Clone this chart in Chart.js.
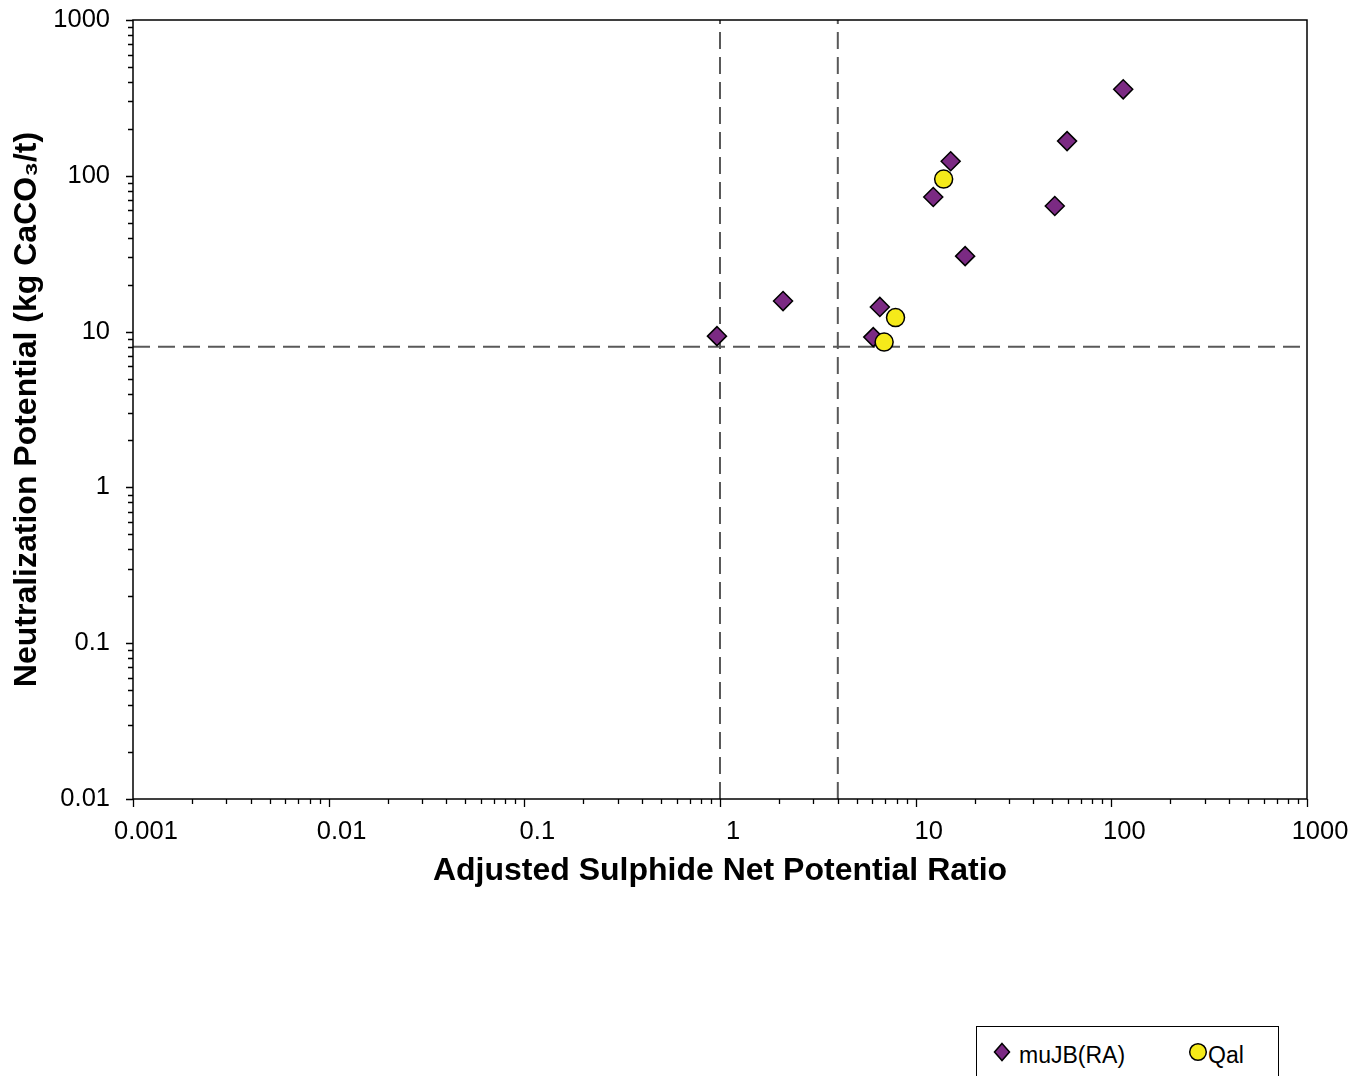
<!DOCTYPE html>
<html><head><meta charset="utf-8">
<script src="https://cdn.jsdelivr.net/npm/chart.js@4.4.0/dist/chart.umd.min.js"></script>
<style>
html,body{margin:0;padding:0;background:#fff;overflow:hidden}
#wrap{position:relative;width:1364px;height:1076px}
canvas{position:absolute;left:0;top:0}
#legend{position:absolute;left:976px;top:1026px;width:303px;height:70px;border:1px solid #000;box-sizing:border-box;font-family:"Liberation Sans",Arial,sans-serif;font-size:23px;color:#000;background:#fff}
#legend .it{position:absolute;top:0;height:60px}
#legend svg{position:absolute}
#legend span{position:absolute;top:17px;line-height:23px;white-space:nowrap}
</style></head><body>
<div id="wrap"><canvas id="c" width="1364" height="1076"></canvas><div id="legend"></div></div>
<script>
// ---- data ----
const muJB_NPR = [0.965, 2.10, 6.56, 6.07, 15.1, 12.3, 17.9, 51.4, 59.4, 115];
const muJB_NP  = [9.35, 15.7, 14.4, 9.22, 124, 73.1, 30.5, 64.0, 167, 359];
const qal_NPR  = [13.9, 7.89, 6.90];
const qal_NP   = [95.3, 12.3, 8.57];
const nprLimits = [1, 4];      // vertical dashed lines
const npLimits  = [8];         // horizontal dashed line
const xRange = [0.001, 1000];
const yRange = [0.01, 1000];
const xTickLabels = ['0.001','0.01','0.1','1','10','100','1000'];
const yTickLabels = ['0.01','0.1','1','10','100','1000'];
const seriesNames = ['muJB(RA)', 'Qal'];

const PURPLE = '#7B2A83', YELLOW = '#F5EA1A', DASH = '#595959';
const FONT = '"Liberation Sans", Arial, sans-serif';

function pts(xs, ys){ return xs.map((v,i)=>({x:v, y:ys[i]})); }
function sameDecade(v, lbl){ return Math.abs(Math.log10(v) - Math.log10(parseFloat(lbl))) < 1e-6; }
function labelFor(list){ return v => { const l = list.find(s => sameDecade(v, s)); return l === undefined ? '' : l; }; }
function keepIntegerMantissa(scale){
  scale.ticks = scale.ticks.filter(t => {
    const m = t.value / Math.pow(10, Math.floor(Math.log10(t.value) + 1e-9));
    return Math.abs(m - Math.round(m)) < 1e-6;
  });
}

const datasets = [];
nprLimits.forEach(v => datasets.push({type:'line', label:'', data:[{x:v,y:yRange[0]},{x:v,y:yRange[1]}],
  borderColor:DASH, borderWidth:2, borderDash:[17,8], pointRadius:0, fill:false, order:3}));
npLimits.forEach(v => datasets.push({type:'line', label:'', data:[{x:xRange[0],y:v},{x:xRange[1],y:v}],
  borderColor:DASH, borderWidth:2, borderDash:[17,8], pointRadius:0, fill:false, order:3}));
datasets.push({type:'scatter', label:seriesNames[0], data:pts(muJB_NPR, muJB_NP), pointStyle:'rectRot',
  pointRadius:9.5, backgroundColor:PURPLE, borderColor:'#000', borderWidth:1.5, order:2});
datasets.push({type:'scatter', label:seriesNames[1], data:pts(qal_NPR, qal_NP), pointStyle:'circle',
  pointRadius:9, backgroundColor:YELLOW, borderColor:'#000', borderWidth:1.5, order:1});

const frameTicks = {
  id:'frameTicks',
  afterDraw(chart){
    const {ctx, chartArea:a, scales:{x, y}} = chart;
    ctx.save();
    ctx.strokeStyle = '#000';
    ctx.lineWidth = 1.5;
    ctx.strokeRect(a.left, a.top, a.right - a.left, a.bottom - a.top);
    ctx.lineWidth = 1.3;
    ctx.beginPath();
    x.ticks.forEach(t => {
      const p = Math.round(x.getPixelForValue(t.value)) + 0.5;
      const len = labelFor(xTickLabels)(t.value) ? 8 : 5;
      ctx.moveTo(p, a.bottom); ctx.lineTo(p, a.bottom + len);
    });
    y.ticks.forEach(t => {
      const p = Math.round(y.getPixelForValue(t.value)) + 0.5;
      const len = labelFor(yTickLabels)(t.value) ? 7 : 5;
      ctx.moveTo(a.left, p); ctx.lineTo(a.left - len, p);
    });
    ctx.stroke();
    ctx.restore();
  }
};

const chart = new Chart(document.getElementById('c'), {
  data:{datasets},
  options:{
    responsive:false, animation:false, devicePixelRatio:1,
    layout:{padding:{left:0, top:20, right:57, bottom:177}},
    plugins:{legend:{display:false}, tooltip:{enabled:false}},
    scales:{
      x:{type:'logarithmic', position:'bottom', min:xRange[0], max:xRange[1],
        afterBuildTicks:keepIntegerMantissa,
        afterFit:s => { s.height = 100; s.paddingLeft = 0; s.paddingRight = 0; },
        grid:{display:true, drawOnChartArea:false, drawTicks:true, tickLength:8, tickColor:'rgba(0,0,0,0)', color:'rgba(0,0,0,0)'},
        border:{display:false},
        ticks:{autoSkip:false, maxRotation:0, minRotation:0, padding:10, labelOffset:13, color:'#000',
          font:{family:FONT, size:25.5}, callback:labelFor(xTickLabels)},
        title:{display:true, text:'Adjusted Sulphide Net Potential Ratio', color:'#000',
          font:{family:FONT, size:32, weight:'bold'}, padding:{top:0, bottom:9}}
      },
      y:{type:'logarithmic', position:'left', min:yRange[0], max:yRange[1],
        afterBuildTicks:keepIntegerMantissa,
        afterFit:s => { s.width = 133; s.paddingTop = 0; s.paddingBottom = 0; },
        grid:{display:true, drawOnChartArea:false, drawTicks:true, tickLength:8, tickColor:'rgba(0,0,0,0)', color:'rgba(0,0,0,0)'},
        border:{display:false},
        ticks:{autoSkip:false, padding:15, color:'#000', font:{family:FONT, size:25.5}, callback:labelFor(yTickLabels)},
        title:{display:true, text:'Neutralization Potential (kg CaCO\u2083/t)', color:'#000',
          font:{family:FONT, size:32, weight:'bold'}, padding:{top:8, bottom:0}}
      }
    }
  },
  plugins:[frameTicks]
});

// ---- legend (HTML, built from the chart's scatter datasets) ----
const legend = document.getElementById('legend');
const legendPos = [{mk:25, tx:42}, {mk:221, tx:231}];
chart.data.datasets.filter(d => d.type === 'scatter').forEach((d, i) => {
  const it = document.createElement('div'); it.className = 'it';
  const svgNS = 'http://www.w3.org/2000/svg';
  const svg = document.createElementNS(svgNS, 'svg');
  svg.setAttribute('width', 22); svg.setAttribute('height', 22);
  svg.style.left = (legendPos[i].mk - 11) + 'px'; svg.style.top = (25 - 11) + 'px';
  let shape;
  if (d.pointStyle === 'rectRot') {
    shape = document.createElementNS(svgNS, 'polygon');
    shape.setAttribute('points', '11,2.5 18.5,11 11,19.5 3.5,11');
  } else {
    shape = document.createElementNS(svgNS, 'circle');
    shape.setAttribute('cx', 11); shape.setAttribute('cy', 11); shape.setAttribute('r', 8.3);
  }
  shape.setAttribute('fill', d.backgroundColor); shape.setAttribute('stroke', '#000'); shape.setAttribute('stroke-width', 1.5);
  svg.appendChild(shape); it.appendChild(svg);
  const sp = document.createElement('span'); sp.textContent = d.label; sp.style.left = legendPos[i].tx + 'px';
  it.appendChild(sp); legend.appendChild(it);
});
</script>
</body></html>
